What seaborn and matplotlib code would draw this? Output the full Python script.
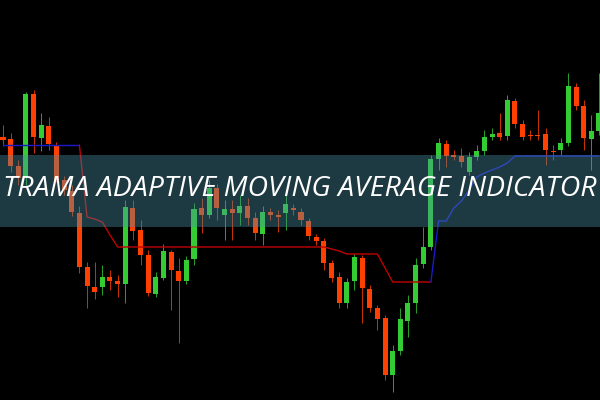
import numpy as np
import pandas as pd
import matplotlib.pyplot as plt
import seaborn as sns

# candle values (79 bars)
opens = [263, 261, 234, 222, 306, 262, 274, 255, 220, 209,
         187, 133, 113, 113, 123, 119, 116, 192, 170, 145,
         106, 122, 148, 129, 119, 141, 192, 185, 212, 185,
         191, 187, 194, 182, 166, 188, 185, 187, 192, 188,
         179, 163, 159, 137, 123, 97, 119, 142, 111, 92,
         82, 25, 49, 79, 97, 136, 153, 241, 256, 245,
         244, 228, 243, 249, 263, 267, 264, 299, 276, 265,
         265, 266, 249, 250, 257, 313, 294, 261, 269]
highs = [275, 267, 240, 308, 310, 287, 283, 258, 224, 215,
         194, 138, 138, 135, 130, 125, 200, 200, 180, 150,
         128, 156, 150, 142, 144, 197, 202, 220, 216, 200,
         200, 205, 202, 188, 194, 192, 190, 205, 196, 192,
         182, 166, 162, 140, 128, 122, 146, 145, 115, 95,
         85, 55, 92, 105, 142, 173, 245, 262, 260, 250,
         252, 248, 255, 270, 272, 287, 305, 302, 280, 270,
         290, 272, 255, 262, 327, 317, 300, 285, 327]
lows = [254, 228, 215, 215, 247, 249, 250, 218, 205, 184,
        127, 92, 101, 105, 110, 103, 97, 160, 135, 104,
        103, 120, 90, 57, 116, 135, 167, 182, 180, 160,
        160, 175, 175, 160, 155, 180, 168, 170, 185, 175,
        160, 155, 130, 118, 92, 92, 110, 77, 88, 70,
        20, 8, 45, 63, 87, 132, 150, 230, 233, 240,
        233, 225, 240, 245, 260, 260, 260, 272, 260, 260,
        260, 235, 240, 245, 254, 290, 250, 230, 265]
closes = [260, 234, 222, 306, 263, 275, 256, 220, 210, 188,
          133, 114, 108, 123, 119, 116, 193, 169, 145, 107,
          123, 149, 130, 119, 140, 191, 185, 212, 192, 191,
          187, 194, 182, 167, 188, 185, 183, 196, 190, 180,
          164, 159, 137, 122, 97, 118, 143, 112, 92, 81,
          25, 49, 81, 97, 135, 153, 241, 257, 244, 243,
          238, 243, 249, 263, 266, 263, 300, 276, 263, 264,
          264, 250, 248, 257, 314, 294, 262, 269, 287]
trama = [255, 255, 255, 255, 255, 255, 255, 255, 255, 255,
         255, 183, 181, 178, 165, 153, 153, 153, 153, 153,
         153, 153, 153, 153, 153, 153, 153, 153, 153, 153,
         153, 153, 153, 153, 153, 153, 153, 153, 153, 153,
         153, 153, 153, 151, 149, 146, 146, 146, 146, 146,
         132, 118, 118, 118, 118, 118, 118, 179, 179, 192,
         199, 210, 223, 227, 230, 233, 237, 244, 244, 244,
         244, 244, 244, 244, 244, 244, 244, 244, 244]
title = "TRAMA ADAPTIVE MOVING AVERAGE INDICATOR"

df = pd.DataFrame({'bar': np.arange(len(opens)), 'open': opens, 'high': highs,
                   'low': lows, 'close': closes, 'trama': trama})

green = '#33cc33'
red = '#ff4000'
colors = np.where(df['close'] >= df['open'], green, red)

sns.set_style("dark", {"axes.facecolor": "black", "figure.facecolor": "black"})
fig = plt.figure(figsize=(6, 4), dpi=100)
ax = fig.add_axes([0, 0, 1, 1])

ax.vlines(df['bar'], df['low'], df['high'], colors=colors, lw=0.7, alpha=0.8, zorder=2)
ax.bar(df['bar'], df['close'] - df['open'], bottom=df['open'], width=0.66,
       color=colors, lw=0, zorder=3)

# trama line: blue while price is above, red while below
for part, col in [(df.iloc[0:11], '#1a1acc'), (df.iloc[10:57], '#c00000'),
                  (df.iloc[56:], '#1a1acc')]:
    sns.lineplot(data=part, x='bar', y='trama', color=col, lw=1, ax=ax, zorder=4)

ax.axhspan(173, 245.5, color='#4a90a4', alpha=0.4, lw=0, zorder=5)
ax.text(0.5, 211, title, transform=ax.get_yaxis_transform(), ha='center', va='center',
        color='white', fontsize=20.5, style='italic', family='Open Sans', zorder=6)

ax.set_xlim(-0.39, 78.13)
ax.set_ylim(0, 400)
ax.axis('off')

fig.savefig('out.png', dpi=100, facecolor='black')
